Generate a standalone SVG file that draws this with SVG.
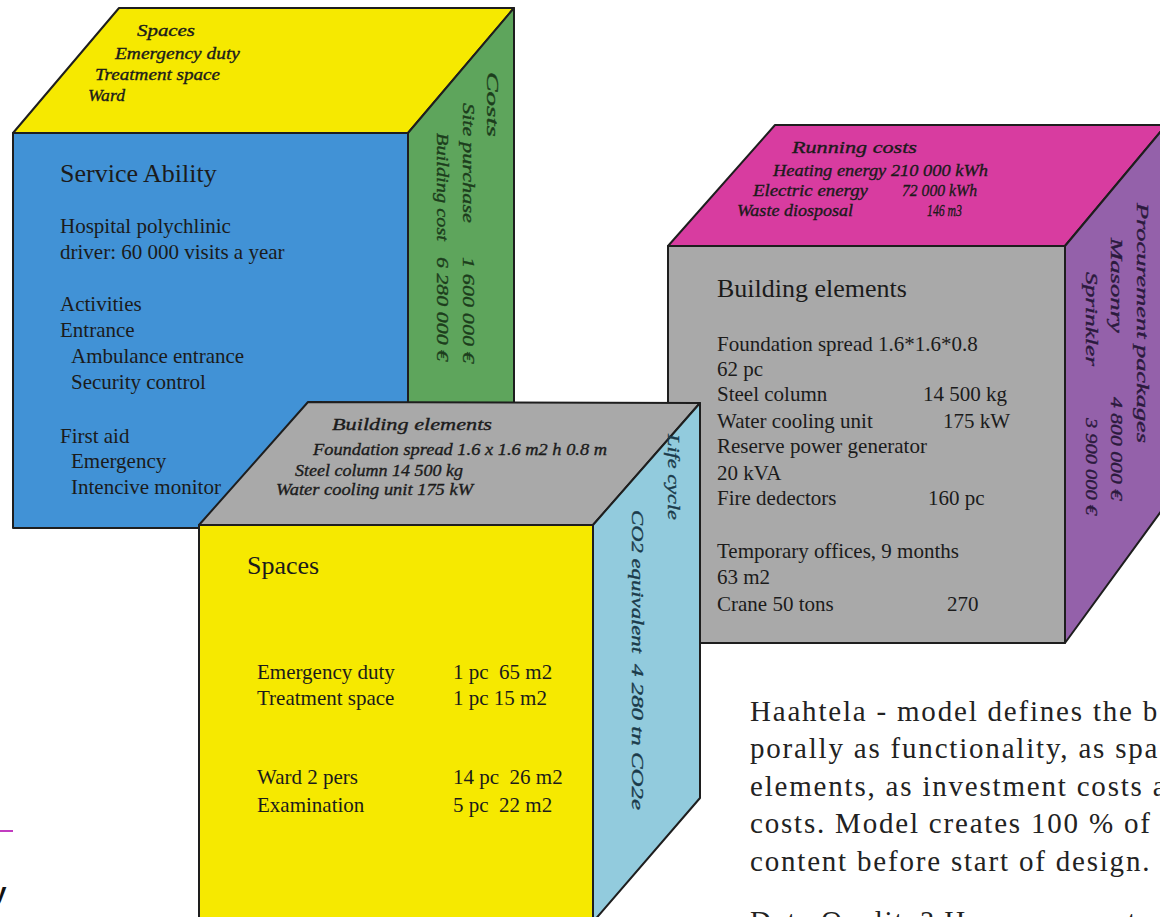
<svg xmlns="http://www.w3.org/2000/svg" width="1160" height="917" viewBox="0 0 1160 917">
  <style>
    .edge { stroke: #1e1e1e; stroke-width: 2; stroke-linejoin: round; }
    .hd { font-family: "Liberation Serif", "Times New Roman", serif; font-size: 26px; fill: #1b1b1b; }
    .bd { font-family: "Liberation Serif", "Times New Roman", serif; font-size: 21px; fill: #1b1b1b; }
    .it { font-family: "Liberation Serif", "Times New Roman", serif; font-style: italic; font-size: 17px; fill: #1b1b1b; stroke: #1b1b1b; stroke-width: 0.35; }
    .vt { font-family: "Liberation Serif", "Times New Roman", serif; font-style: italic; font-size: 17px; stroke-width: 0.35; }
    .para { font-family: "Liberation Serif", "Times New Roman", serif; font-size: 29px; letter-spacing: 1.8px; fill: #222222; }
  </style>

  <rect width="1160" height="917" fill="#ffffff"/>

  <!-- Cube 1: service ability / spaces / costs -->
  <g id="cube-service">
    <polygon class="edge" fill="#f6e900" points="13,133 119,8 514,8 408,133"/>
    <polygon class="edge" fill="#5ea55c" points="408,133 514,8 514,403 408,528"/>
    <polygon class="edge" fill="#4192d6" points="13,133 408,133 408,528 13,528"/>
    <text class="it" x="137" y="36" textLength="58" lengthAdjust="spacingAndGlyphs">Spaces</text>
    <text class="it" x="115" y="59" textLength="125" lengthAdjust="spacingAndGlyphs">Emergency duty</text>
    <text class="it" x="95" y="80" textLength="125" lengthAdjust="spacingAndGlyphs">Treatment space</text>
    <text class="it" x="88" y="101" textLength="37" lengthAdjust="spacingAndGlyphs">Ward</text>
    <g class="vt" fill="#1c3d1c" stroke="#1c3d1c">
      <text transform="translate(487,72) rotate(90)" textLength="65" lengthAdjust="spacingAndGlyphs">Costs</text>
      <text transform="translate(463,103) rotate(90)" textLength="120" lengthAdjust="spacingAndGlyphs">Site purchase</text>
      <text transform="translate(463,257) rotate(90)" textLength="106" lengthAdjust="spacingAndGlyphs">1 600 000 €</text>
      <text transform="translate(437,133) rotate(90)" textLength="108" lengthAdjust="spacingAndGlyphs">Building cost</text>
      <text transform="translate(437,257) rotate(90)" textLength="104" lengthAdjust="spacingAndGlyphs">6 280 000 €</text>
    </g>
    <text class="hd" x="60" y="182">Service Ability</text>
    <text class="bd" x="60" y="233">Hospital polychlinic</text>
    <text class="bd" x="60" y="259">driver: 60 000 visits a year</text>
    <text class="bd" x="60" y="311">Activities</text>
    <text class="bd" x="60" y="337">Entrance</text>
    <text class="bd" x="71" y="363">Ambulance entrance</text>
    <text class="bd" x="71" y="389">Security control</text>
    <text class="bd" x="60" y="443">First aid</text>
    <text class="bd" x="71" y="468">Emergency</text>
    <text class="bd" x="71" y="494">Intencive monitor</text>
  </g>

  <!-- Cube 3: building elements / running costs / procurement -->
  <g id="cube-elements">
    <polygon class="edge" fill="#d83ca0" points="668,246 775,125 1162,125 1162,130 1065,246"/>
    <polygon class="edge" fill="#9461aa" points="1065,246 1162,130 1162,510 1065,643"/>
    <polygon class="edge" fill="#a9a9a9" points="668,246 1065,246 1065,643 668,643"/>
    <text class="it" x="792" y="153" textLength="125" lengthAdjust="spacingAndGlyphs">Running costs</text>
    <text class="it" x="773" y="176" textLength="215" lengthAdjust="spacingAndGlyphs">Heating energy 210 000 kWh</text>
    <text class="it" x="753" y="196" textLength="115" lengthAdjust="spacingAndGlyphs">Electric energy</text>
    <text class="it" x="902" y="196" textLength="75" lengthAdjust="spacingAndGlyphs">72 000 kWh</text>
    <text class="it" x="737" y="216" textLength="116" lengthAdjust="spacingAndGlyphs">Waste diosposal</text>
    <text class="it" x="927" y="216" textLength="35" lengthAdjust="spacingAndGlyphs">146 m3</text>
    <g class="vt" fill="#2b1a3d" stroke="#2b1a3d">
      <text transform="translate(1137,203) rotate(90)" textLength="240" lengthAdjust="spacingAndGlyphs">Procurement packages</text>
      <text transform="translate(1111,238) rotate(90)" textLength="95" lengthAdjust="spacingAndGlyphs">Masonry</text>
      <text transform="translate(1111,397) rotate(90)" textLength="103" lengthAdjust="spacingAndGlyphs">4 800 000 €</text>
      <text transform="translate(1086,272) rotate(90)" textLength="94" lengthAdjust="spacingAndGlyphs">Sprinkler</text>
      <text transform="translate(1086,418) rotate(90)" textLength="97" lengthAdjust="spacingAndGlyphs">3 900 000 €</text>
    </g>
    <text class="hd" x="717" y="297">Building elements</text>
    <text class="bd" x="717" y="351">Foundation spread 1.6*1.6*0.8</text>
    <text class="bd" x="717" y="376">62 pc</text>
    <text class="bd" x="717" y="401">Steel column</text>
    <text class="bd" x="923" y="401">14 500 kg</text>
    <text class="bd" x="717" y="428">Water cooling unit</text>
    <text class="bd" x="943" y="428">175 kW</text>
    <text class="bd" x="717" y="453">Reserve power generator</text>
    <text class="bd" x="717" y="480">20 kVA</text>
    <text class="bd" x="717" y="505">Fire dedectors</text>
    <text class="bd" x="928" y="505">160 pc</text>
    <text class="bd" x="717" y="558">Temporary offices, 9 months</text>
    <text class="bd" x="717" y="584">63 m2</text>
    <text class="bd" x="717" y="611">Crane 50 tons</text>
    <text class="bd" x="947" y="611">270</text>
  </g>

  <!-- Cube 2: spaces / building elements / life cycle -->
  <g id="cube-spaces">
    <polygon class="edge" fill="#a9a9a9" points="199,525 308,402 700,403 593,525"/>
    <polygon class="edge" fill="#92cbdd" points="593,525 700,403 700,798 593,922"/>
    <polygon class="edge" fill="#f6e900" points="199,525 593,525 593,930 199,930"/>
    <text class="it" x="332" y="430" textLength="160" lengthAdjust="spacingAndGlyphs">Building elements</text>
    <text class="it" x="313" y="455" textLength="294" lengthAdjust="spacingAndGlyphs">Foundation spread 1.6 x 1.6 m2 h 0.8 m</text>
    <text class="it" x="295" y="476" textLength="168" lengthAdjust="spacingAndGlyphs">Steel column 14 500 kg</text>
    <text class="it" x="276" y="495" textLength="197" lengthAdjust="spacingAndGlyphs">Water cooling unit 175 kW</text>
    <g class="vt" fill="#1a3a4a" stroke="#1a3a4a">
      <text transform="translate(668,434) rotate(90)" textLength="86" lengthAdjust="spacingAndGlyphs">Life cycle</text>
      <text transform="translate(632,510) rotate(90)" textLength="143" lengthAdjust="spacingAndGlyphs">CO2 equivalent</text>
      <text transform="translate(632,664) rotate(90)" textLength="146" lengthAdjust="spacingAndGlyphs">4 280 tn CO2e</text>
    </g>
    <text class="hd" x="247" y="574">Spaces</text>
    <text class="bd" x="257" y="679">Emergency duty</text>
    <text class="bd" x="453" y="679" xml:space="preserve">1 pc  65 m2</text>
    <text class="bd" x="257" y="705">Treatment space</text>
    <text class="bd" x="453" y="705">1 pc 15 m2</text>
    <text class="bd" x="257" y="784">Ward 2 pers</text>
    <text class="bd" x="453" y="784" xml:space="preserve">14 pc  26 m2</text>
    <text class="bd" x="257" y="812">Examination</text>
    <text class="bd" x="453" y="812" xml:space="preserve">5 pc  22 m2</text>
  </g>

  <!-- Running paragraph beside the cubes -->
  <g id="caption">
    <text class="para" x="750" y="721">Haahtela - model defines the b</text>
    <text class="para" x="750" y="758">porally as functionality, as spa</text>
    <text class="para" x="750" y="796">elements, as investment costs a</text>
    <text class="para" x="750" y="833">costs. Model creates 100 % of t</text>
    <text class="para" x="750" y="871">content before start of design.</text>
    <text class="para" x="750" y="931">Data Quality? How represents</text>
  </g>

  <!-- Page fragments at the left edge -->
  <g id="margin">
    <line x1="0" y1="831" x2="13" y2="831" stroke="#c23cc0" stroke-width="2"/>
    <text x="-8" y="901" font-family="Liberation Sans, Arial, sans-serif" font-weight="bold" font-size="26" fill="#111">y</text>
  </g>
</svg>
